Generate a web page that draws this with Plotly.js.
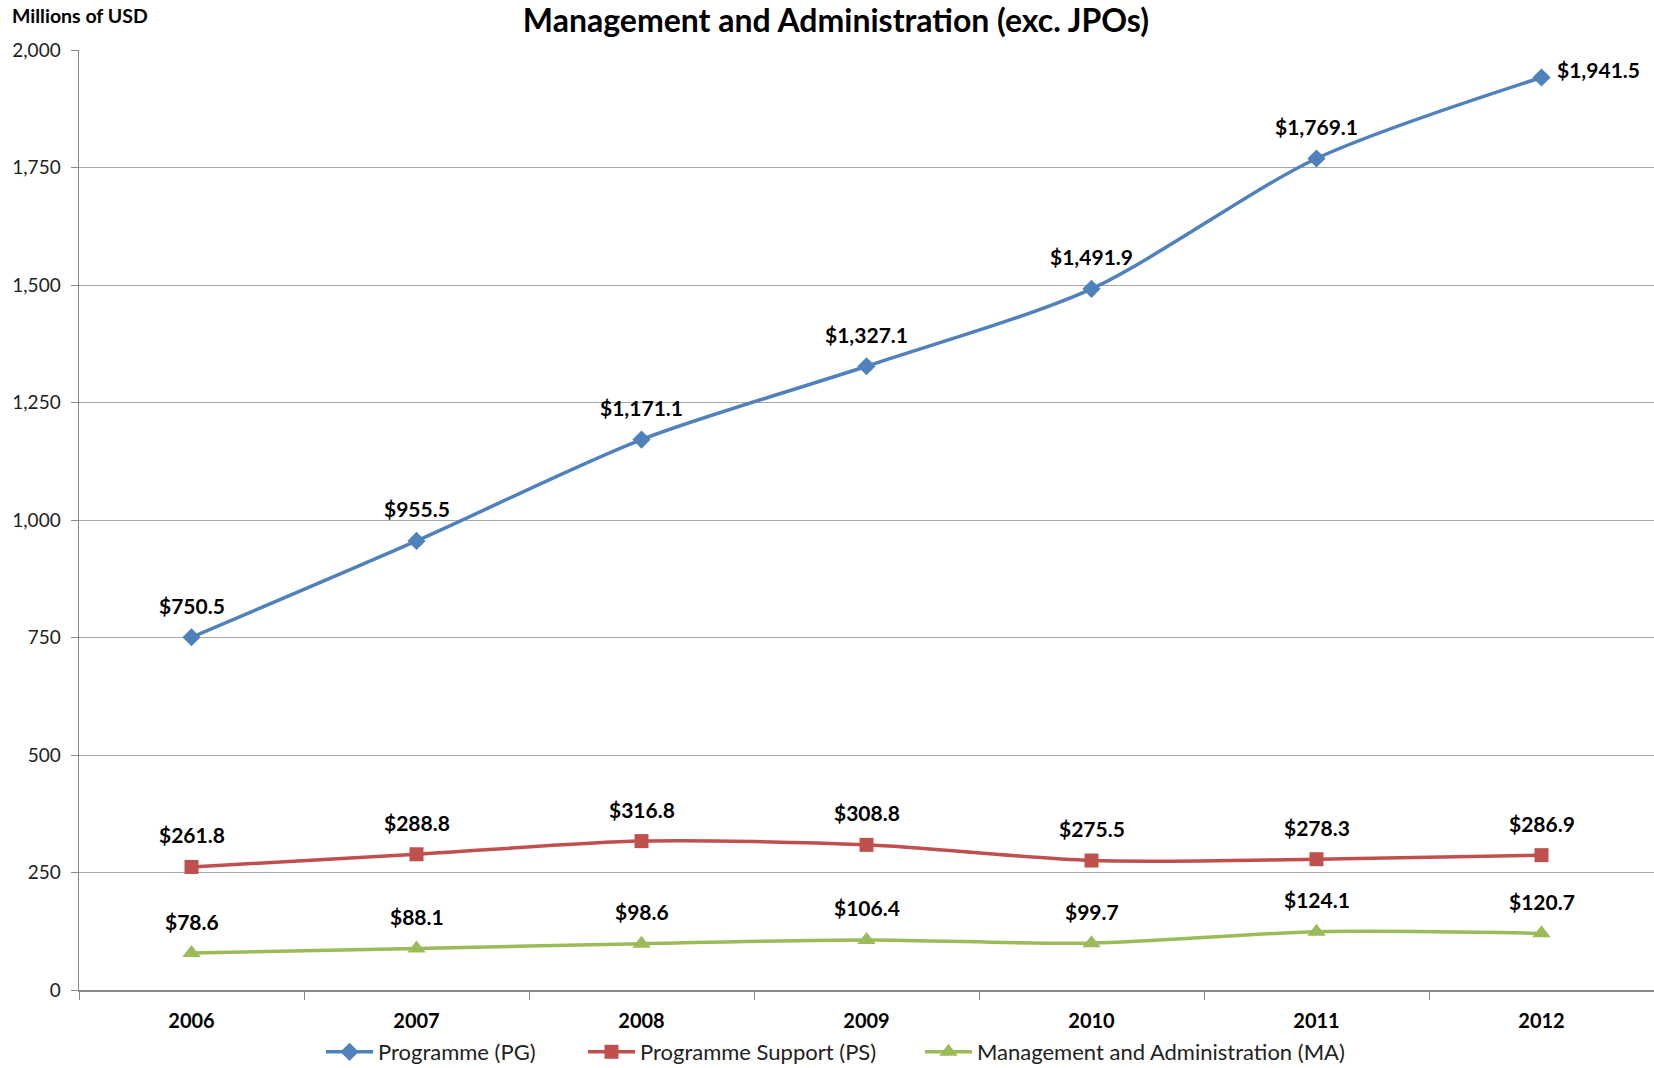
<!DOCTYPE html>
<html>
<head>
<meta charset="utf-8">
<script src="https://cdn.plot.ly/plotly-3.0.1.min.js"></script>
<style>html,body{margin:0;padding:0;background:#fff;}#chart{width:1654px;height:1068px;}</style>
</head>
<body>
<div id="chart"></div>
<script>
var years = ['2006', '2007', '2008', '2009', '2010', '2011', '2012'];
var programme = [750.5, 955.5, 1171.1, 1327.1, 1491.9, 1769.1, 1941.5];
var programmeSupport = [261.8, 288.8, 316.8, 308.8, 275.5, 278.3, 286.9];
var managementAdmin = [78.6, 88.1, 98.6, 106.4, 99.7, 124.1, 120.7];
var seriesNames = ['Programme (PG)', 'Programme Support (PS)', 'Management and Administration (MA)'];
var yTicks = [0, 250, 500, 750, 1000, 1250, 1500, 1750, 2000];

var FONT = 'Lato, "Liberation Sans", sans-serif';
var colors = ['#4F81BD', '#C0504D', '#9BBB59'];
var symbols = ['diamond', 'square', 'triangle-up'];
var sizes = [14, 14, 16];
var legendIds = ['legend', 'legend2', 'legend3'];
var legendX = [321, 583, 920];
var allSeries = [programme, programmeSupport, managementAdmin];

var traces = allSeries.map(function (vals, i) {
  return {
    type: 'scatter', mode: 'lines+markers', x: years, y: vals, name: seriesNames[i],
    legend: legendIds[i],
    line: {color: colors[i], width: 3.5, shape: 'spline', smoothing: 0.8},
    marker: {color: colors[i], symbol: symbols[i], size: sizes[i]},
    hoverinfo: 'skip'
  };
});

function fmt(v) {
  return '$' + v.toLocaleString('en-US', {minimumFractionDigits: 1, maximumFractionDigits: 1});
}

var annotations = [];
allSeries.forEach(function (vals, i) {
  vals.forEach(function (v, j) {
    var last = (i === 0 && j === vals.length - 1);
    annotations.push({
      x: j, y: v, xref: 'x', yref: 'y', text: fmt(v), showarrow: false,
      xanchor: last ? 'left' : 'center', yanchor: 'middle',
      xshift: last ? 13 : 0, yshift: last ? 8 : 32,
      font: {family: FONT, size: 21, color: '#000', weight: 'bold'}
    });
  });
});

annotations.push({
  xref: 'paper', yref: 'paper', x: -0.0438, y: 1.037, xanchor: 'left', yanchor: 'middle',
  text: 'Millions of USD', showarrow: false,
  font: {family: FONT, size: 19.5, color: '#000', weight: 'bold'}
});

var layout = {
  width: 1654, height: 1068,
  margin: {l: 79, r: 0, t: 50, b: 78},
  paper_bgcolor: '#fff', plot_bgcolor: '#fff',
  title: {text: 'Management and Administration (exc. JPOs)', xref: 'container', yref: 'container', x: 0.5054, y: 1 - 21 / 1068,
    xanchor: 'center', yanchor: 'middle', font: {family: FONT, size: 32, color: '#000', weight: 'bold'}},
  showlegend: true,
  xaxis: {type: 'category', categoryarray: years, range: [-0.5, 6.5], showgrid: false,
    showline: true, linecolor: '#888', linewidth: 1.5, ticks: 'outside', tickson: 'boundaries',
    ticklen: 8, tickcolor: '#888', tickfont: {family: FONT, size: 20, color: '#000', weight: 'bold'}, ticklabelstandoff: 12, zeroline: false, fixedrange: true},
  yaxis: {range: [0, 2000], tickvals: yTicks, tickformat: ',', showgrid: true, gridcolor: '#A6A6A6', gridwidth: 1,
    showline: true, linecolor: '#888', linewidth: 1.5, ticks: 'outside', ticklen: 7, tickcolor: '#888',
    tickfont: {family: FONT, size: 19, color: '#222'}, ticklabelstandoff: 6, zeroline: false, fixedrange: true},
  annotations: annotations
};

legendIds.forEach(function (id, i) {
  layout[id] = {
    orientation: 'h', xref: 'container', yref: 'container',
    x: legendX[i] / 1654, y: 1 - 1052 / 1068, xanchor: 'left', yanchor: 'middle',
    font: {family: FONT, size: 22, color: '#222'}, itemwidth: 47, bgcolor: 'rgba(0,0,0,0)', borderwidth: 0
  };
});

Plotly.newPlot('chart', traces, layout, {staticPlot: true, displayModeBar: false});
</script>
</body>
</html>
